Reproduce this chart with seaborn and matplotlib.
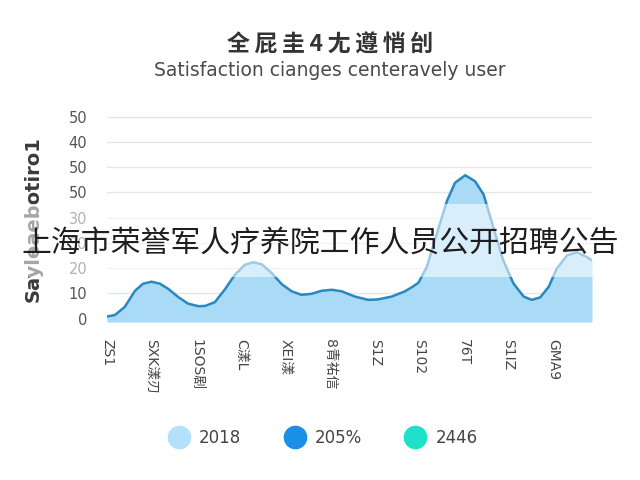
import pandas as pd
import matplotlib.pyplot as plt
from matplotlib.patches import Rectangle
from matplotlib.lines import Line2D
import seaborn as sns

# values (position in category units, value)
positions = [0.0, 0.18, 0.40, 0.63, 0.81, 1.00, 1.19, 1.38, 1.60, 1.82, 2.05, 2.20,
             2.42, 2.65, 2.87, 3.09, 3.28, 3.47, 3.69, 3.92, 4.14, 4.36, 4.59, 4.81,
             5.04, 5.26, 5.56, 5.86, 6.08, 6.38, 6.68, 6.85, 6.98, 7.17, 7.39, 7.62,
             7.80, 8.03, 8.25, 8.44, 8.66, 8.88, 9.11, 9.34, 9.52, 9.71, 9.90, 10.08,
             10.31, 10.53, 10.75, 10.87]
scores = [0.8, 1.4, 4.6, 11.0, 13.8, 14.6, 13.8, 11.7, 8.5, 5.9, 4.9, 5.0,
          6.5, 11.7, 17.4, 21.3, 22.3, 21.5, 18.1, 13.6, 10.8, 9.4, 9.8, 11.0,
          11.4, 10.8, 8.7, 7.4, 7.6, 8.7, 10.8, 12.6, 14.2, 20.5, 33.5, 46.6,
          53.8, 56.8, 54.4, 49.2, 36.1, 23.1, 13.9, 8.7, 7.4, 8.4, 12.6, 19.8,
          25.0, 26.3, 24.4, 23.1]

x_labels = ["ZS1", "SXK漾刃", "1SOS剧", "C漾L", "XEI漾", "8青祐信",
            "S1Z", "S102", "76T", "S1IZ", "GMA9"]
y_ticks = [0, 10, 20, 30, 40, 50, 60, 70, 80]
y_labels = ["0", "10", "20", "30", "30", "50", "50", "40", "50"]

legend_labels = ["2018", "205%", "2446"]
legend_colors = ["#b3e0fa", "#1c8fe6", "#1fe0c8"]

df = pd.DataFrame({"pos": positions, "score": scores})

sns.set_style("white")
plt.rcParams["font.family"] = ["DejaVu Sans", "Noto Sans CJK SC"]

fig = plt.figure(figsize=(6.4, 4.8), dpi=100)
ax = fig.add_axes([0.167, 0.329, 0.758, 0.431])

ax.fill_between(df["pos"], df["score"], -1.4, color="#a6d9f6", alpha=0.95, lw=0)
sns.lineplot(data=df, x="pos", y="score", ax=ax, color="#2a88c0", lw=1.8)

ax.set_xlim(0, 10.87)
ax.set_ylim(-1.4, 80.6)
ax.set_yticks(y_ticks)
ax.set_yticklabels(y_labels, color="#555555", fontsize=10.5)
ax.set_xticks(range(len(x_labels)))
ax.set_xticklabels(x_labels, rotation=270, color="#444444", fontsize=10)
ax.tick_params(axis="y", length=0, pad=14)
ax.tick_params(axis="x", length=7, width=1, color="#bbbbbb", pad=5)
ax.grid(axis="y", color="#e6e6e6", lw=1)
ax.set_axisbelow(True)
for s in ax.spines.values():
    s.set_visible(False)
ax.set_xlabel("")
ax.set_ylabel("Sayleaebotiro1", fontsize=14, fontweight="bold", color="#3a3a3a", labelpad=19)

title = "\u2009".join("全屁圭4尢遵悄刣")
fig.text(0.515, 0.907, title, ha="center", va="center", fontsize=16.5,
         fontweight="bold", color="#333333", family=["Noto Sans CJK SC", "DejaVu Sans"])
fig.text(0.515, 0.853, "Satisfaction cianges centeravely user", ha="center", va="center",
         fontsize=13.5, color="#4a4a4a")

# pale band and overlay caption across the chart
fig.add_artist(Rectangle((0, 0.423), 1, 0.152, transform=fig.transFigure,
                         color="white", alpha=0.55, lw=0, zorder=5))
fig.text(0.5, 0.493, "上海市荣誉军人疗养院工作人员公开招聘公告", ha="center", va="center",
         fontsize=21.5, color="#1e1e1e", family=["Noto Sans CJK SC"], zorder=6)

handles = [Line2D([], [], ls="", marker="o", markersize=16, color=c) for c in legend_colors]
fig.legend(handles, legend_labels, loc="center", bbox_to_anchor=(0.5, 0.088), ncol=3,
           frameon=False, fontsize=12, labelcolor="#444444", columnspacing=2.2,
           handletextpad=0.2)

fig.savefig("out.png", dpi=100)
